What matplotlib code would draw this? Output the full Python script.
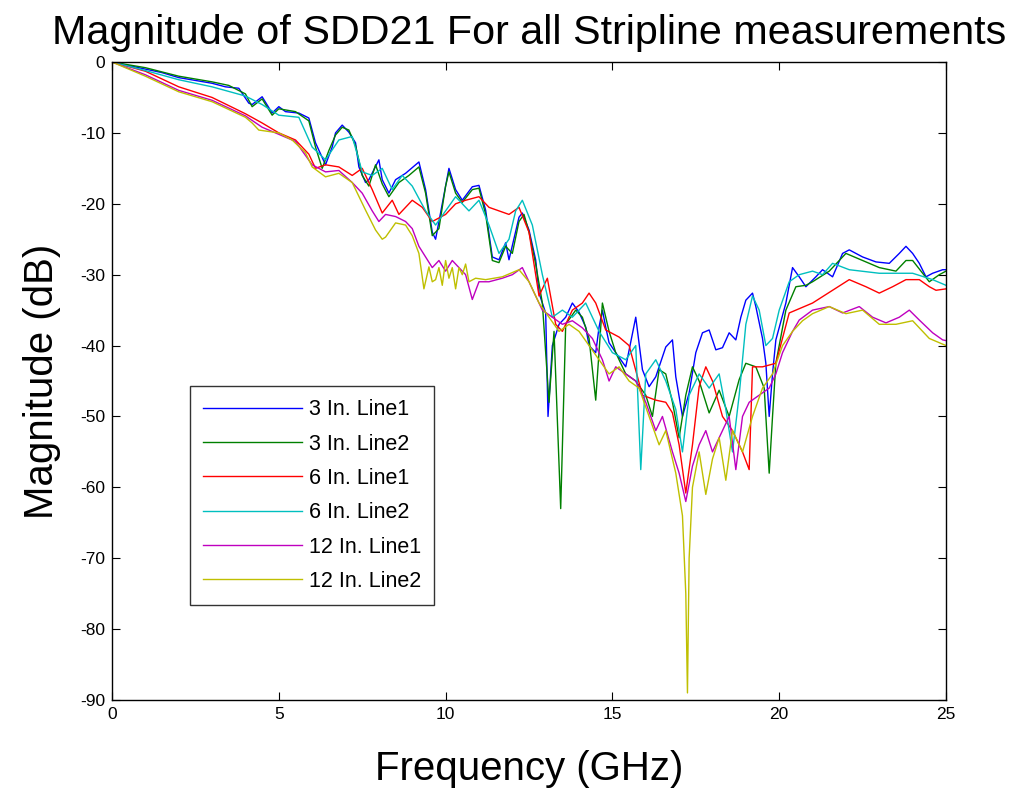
import matplotlib
matplotlib.use("Agg")
import matplotlib.pyplot as plt

plt.rcParams['font.family'] = ['Liberation Sans', 'DejaVu Sans']
plt.rcParams['axes.unicode_minus'] = False

labels = ["3 In. Line1", "3 In. Line2", "6 In. Line1", "6 In. Line2", "12 In. Line1", "12 In. Line2"]
colors = [(0, 0, 1), (0, 0.5, 0), (1, 0, 0), (0, 0.75, 0.75), (0.75, 0, 0.75), (0.75, 0.75, 0)]

f_3in_l1 = [0, 0.5, 1, 1.5, 2, 2.5, 3, 3.4, 3.8, 4.1, 4.2, 4.5, 4.8, 5.0, 5.2, 5.6, 5.9, 6.1, 6.4, 6.6, 6.7, 6.9, 7.1, 7.3, 7.4, 7.6, 7.7, 8.0, 8.1, 8.3, 8.5, 8.8, 9.2, 9.4, 9.6, 9.7, 9.9, 10.1, 10.3, 10.5, 10.8, 11.0, 11.2, 11.4, 11.6, 11.8, 11.9, 12.2, 12.3, 12.5, 12.7, 12.8, 13.0, 13.07, 13.2, 13.4, 13.6, 13.8, 14.0, 14.2, 14.3, 14.5, 14.6, 14.7, 14.8, 14.9, 15.1, 15.4, 15.7, 15.9, 16.1, 16.3, 16.6, 16.8, 16.9, 17.1, 17.3, 17.5, 17.7, 17.9, 18.1, 18.3, 18.5, 18.7, 18.85, 19.0, 19.2, 19.3, 19.5, 19.6, 19.7, 19.8, 19.9, 20.2, 20.4, 20.6, 20.8, 21.1, 21.3, 21.6, 21.9, 22.1, 22.5, 22.9, 23.3, 23.6, 23.8, 24.0, 24.2, 24.4, 24.6, 24.9, 25.0]
db_3in_l1 = [0, -0.5, -1.0, -1.5, -2.2, -2.6, -3.0, -3.5, -3.7, -5.8, -6.0, -4.9, -7.2, -6.3, -7.0, -7.2, -7.9, -11.4, -14.5, -12.0, -10.0, -8.9, -9.9, -11.4, -14.8, -17.0, -16.6, -13.8, -16.6, -18.5, -16.6, -15.7, -14.1, -18.0, -24.0, -25.0, -20.0, -15.0, -18.0, -19.5, -17.6, -17.4, -20.9, -27.5, -27.9, -25.5, -27.9, -21.9, -21.3, -23.7, -27.9, -32.6, -35.4, -50.0, -40.0, -37.0, -36.0, -34.0, -35.3, -37.4, -40.0, -41.0, -37.4, -35.0, -37.4, -39.6, -41.0, -43.0, -36.0, -43.4, -45.8, -44.4, -40.2, -39.2, -44.4, -50.0, -46.7, -41.0, -38.2, -37.8, -40.6, -40.3, -38.2, -39.2, -36.0, -33.6, -32.6, -34.5, -39.0, -42.5, -50.0, -44.0, -39.2, -34.0, -29.0, -30.3, -31.7, -30.3, -29.3, -30.3, -27.0, -26.5, -27.5, -28.2, -28.4, -27.0, -26.0, -27.0, -28.4, -30.3, -29.8, -29.3, -29.3]

f_3in_l2 = [0, 1, 2, 3, 3.5, 4, 4.2, 4.5, 4.8, 5, 5.5, 5.9, 6.1, 6.3, 6.5, 6.7, 6.9, 7.1, 7.3, 7.5, 7.7, 7.9, 8.1, 8.3, 8.6, 8.9, 9.2, 9.4, 9.6, 9.8, 10.0, 10.1, 10.3, 10.5, 10.8, 11.0, 11.2, 11.4, 11.6, 11.8, 12.0, 12.2, 12.35, 12.5, 12.7, 12.9, 13.1, 13.25, 13.45, 13.6, 13.9, 14.1, 14.3, 14.5, 14.7, 14.9, 15.1, 15.4, 15.7, 16.0, 16.2, 16.4, 16.6, 16.8, 17.0, 17.2, 17.4, 17.6, 17.9, 18.2, 18.5, 18.8, 19.0, 19.3, 19.55, 19.7, 19.8, 19.9, 20.2, 20.5, 20.8, 21.0, 21.5, 22.0, 22.5, 23.0, 23.5, 23.8, 24.0, 24.5, 24.8, 25.0]
db_3in_l2 = [0, -0.8, -2.0, -2.8, -3.3, -4.5, -6.3, -5.2, -7.5, -6.6, -7.0, -8.3, -12.0, -15.0, -12.5, -10.3, -9.2, -9.6, -11.8, -16.0, -17.5, -14.5, -17.2, -19.0, -17.0, -16.0, -14.8, -18.5, -24.5, -23.5, -17.5, -15.5, -18.5, -19.8, -18.0, -17.8, -21.5, -28.0, -28.3, -26.0, -27.0, -22.5, -21.5, -24.0, -28.5, -34.0, -48.0, -38.0, -63.0, -37.0, -35.0, -36.0, -39.0, -47.7, -34.0, -38.0, -41.0, -44.0, -45.0, -47.0, -50.0, -43.4, -44.0, -48.0, -53.0, -47.0, -43.0, -45.0, -49.5, -46.3, -50.0, -44.8, -42.5, -43.0, -46.0, -58.0, -50.0, -42.5, -35.0, -31.7, -31.5, -31.0, -29.5, -27.0, -28.0, -29.0, -29.5, -28.0, -28.0, -31.0, -30.0, -29.5]

f_6in_l1 = [0, 1, 2, 3, 4, 4.5, 5, 5.5, 5.9, 6.1, 6.4, 6.8, 7.2, 7.5, 7.8, 8.1, 8.4, 8.6, 9.0, 9.3, 9.6, 10.0, 10.3, 10.6, 11.0, 11.3, 11.6, 11.9, 12.2, 12.5, 12.8, 13.05, 13.3, 13.5, 13.8, 14.1, 14.3, 14.5, 14.8, 15.2, 15.5, 15.9, 16.3, 16.6, 16.8, 17.0, 17.2, 17.4, 17.6, 17.8, 18.0, 18.3, 18.6, 18.9, 19.1, 19.2, 19.5, 19.9, 20.3, 20.5, 21.0, 21.3, 21.6, 22.1, 22.6, 23.0, 23.4, 23.8, 24.2, 24.5, 24.7, 25.0]
db_6in_l1 = [0, -1.3, -3.5, -5.0, -7.3, -8.6, -10.0, -11.0, -13.0, -15.0, -14.5, -14.8, -16.0, -15.0, -18.0, -21.3, -19.5, -21.5, -19.5, -20.5, -22.5, -21.5, -20.0, -19.5, -19.0, -20.5, -21.0, -21.5, -20.5, -24.0, -33.0, -30.5, -37.0, -38.0, -35.0, -34.0, -32.6, -34.0, -37.8, -38.8, -40.0, -47.0, -47.7, -48.0, -49.5, -54.0, -60.8, -54.0, -45.8, -43.0, -45.0, -50.0, -52.0, -55.0, -57.5, -43.0, -43.0, -42.5, -35.4, -35.0, -34.0, -33.1, -32.2, -30.7, -31.7, -32.6, -31.7, -30.7, -30.7, -31.7, -32.2, -32.0]

f_6in_l2 = [0, 1, 2, 3, 4, 4.5, 5, 5.6, 6.0, 6.4, 6.8, 7.2, 7.5, 7.8, 8.1, 8.4, 8.7, 9.0, 9.4, 9.7, 10.0, 10.3, 10.7, 11.0, 11.3, 11.6, 11.9, 12.1, 12.3, 12.6, 12.9, 13.2, 13.5, 13.8, 14.2, 14.6, 15.0, 15.4, 15.7, 15.85, 16.0, 16.3, 16.6, 16.9, 17.1, 17.3, 17.6, 17.9, 18.2, 18.4, 18.6, 18.8, 19.0, 19.2, 19.4, 19.6, 19.8, 20.0, 20.3, 20.6, 21.0, 21.3, 21.6, 22.1, 23.0, 24.0, 24.6, 25.0]
db_6in_l2 = [0, -1.2, -2.5, -3.5, -4.8, -6.0, -7.5, -7.8, -12.0, -13.8, -11.0, -10.5, -15.5, -16.0, -15.0, -18.0, -16.0, -17.5, -21.0, -23.0, -21.0, -19.0, -21.0, -19.5, -23.0, -27.0, -25.0, -21.0, -19.5, -23.0, -30.0, -36.0, -35.0, -36.0, -34.0, -38.0, -41.0, -42.0, -40.0, -57.5, -44.0, -42.0, -45.0, -49.0, -55.0, -47.0, -44.0, -46.0, -44.0, -49.0, -55.0, -47.0, -37.0, -33.0, -35.0, -40.0, -39.0, -35.0, -31.0, -30.0, -29.5, -30.0, -28.4, -29.3, -29.8, -29.8, -30.7, -31.5]

f_12in_l1 = [0, 1, 2, 3, 4, 4.5, 5, 5.5, 6, 6.4, 6.8, 7.2, 7.5, 7.8, 8.0, 8.2, 8.5, 8.8, 9.0, 9.2, 9.4, 9.6, 9.8, 10.0, 10.2, 10.4, 10.6, 10.8, 11.0, 11.3, 11.7, 12.0, 12.3, 12.6, 12.9, 13.2, 13.5, 13.8, 14.1, 14.4, 14.7, 14.9, 15.1, 15.4, 15.7, 16.0, 16.3, 16.5, 16.8, 17.0, 17.2, 17.4, 17.6, 17.8, 18.0, 18.2, 18.5, 18.7, 18.9, 19.1, 19.4, 19.7, 19.9, 20.1, 20.4, 20.6, 21.0, 21.5, 21.9, 22.4, 22.8, 23.2, 23.6, 23.9, 24.2, 24.6, 24.9, 25.0]
db_12in_l1 = [0, -1.8, -4.0, -5.4, -7.6, -9.2, -10.2, -11.2, -14.5, -15.5, -15.3, -17.0, -18.5, -21.0, -22.5, -21.5, -21.8, -22.5, -23.5, -26.0, -27.5, -29.0, -28.0, -29.5, -28.0, -29.0, -30.0, -33.5, -31.0, -31.0, -30.5, -30.0, -29.0, -32.0, -35.0, -36.0, -37.0, -36.5, -37.5, -39.0, -42.0, -45.0, -43.0, -44.0, -45.0, -48.0, -52.0, -50.0, -55.0, -58.0, -62.0, -57.0, -54.0, -52.0, -55.0, -53.0, -50.0, -57.5, -50.0, -48.0, -47.0, -46.0, -44.0, -41.0, -38.0, -36.4, -35.0, -34.5, -35.4, -34.5, -36.0, -36.8, -36.0, -35.0, -36.4, -38.2, -39.2, -39.3]

f_12in_l2 = [0, 0.5, 1, 2, 3, 4, 4.2, 4.4, 5, 5.4, 5.8, 6.0, 6.4, 6.8, 7.2, 7.6, 7.9, 8.1, 8.2, 8.5, 8.8, 9.0, 9.2, 9.35, 9.5, 9.6, 9.7, 9.8, 9.9, 10.0, 10.1, 10.2, 10.3, 10.4, 10.5, 10.6, 10.7, 10.9, 11.2, 11.7, 12.2, 12.5, 12.8, 13.1, 13.4, 13.7, 14.0, 14.3, 14.6, 14.9, 15.2, 15.5, 15.8, 16.1, 16.4, 16.6, 16.9, 17.1, 17.2, 17.25, 17.3, 17.4, 17.6, 17.8, 18.0, 18.2, 18.4, 18.6, 18.9, 19.2, 19.5, 19.8, 20.1, 20.4, 20.7, 21.0, 21.5, 22.0, 22.5, 23.0, 23.5, 24.0, 24.5, 25.0]
db_12in_l2 = [0, -1.0, -2.0, -4.2, -5.6, -7.8, -8.6, -9.6, -10.0, -11.0, -12.8, -14.8, -16.2, -15.7, -17.0, -20.9, -23.7, -25.0, -24.7, -22.7, -23.0, -24.5, -27.0, -32.0, -28.9, -31.0, -30.7, -29.0, -31.5, -28.0, -30.5, -29.0, -32.0, -29.0, -30.0, -28.5, -31.0, -30.5, -30.7, -30.3, -29.3, -31.0, -34.0, -36.0, -38.0, -37.0, -38.0, -40.0, -42.0, -44.0, -43.0, -45.0, -46.0, -50.0, -54.0, -52.0, -58.0, -64.0, -75.0, -89.0, -70.0, -60.0, -55.0, -61.0, -56.0, -53.0, -59.0, -52.0, -55.0, -50.0, -46.0, -44.0, -40.0, -38.0, -36.5, -35.5, -34.5, -35.5, -35.0, -37.0, -37.0, -36.5, -39.0, -40.0]

freqs = [f_3in_l1, f_3in_l2, f_6in_l1, f_6in_l2, f_12in_l1, f_12in_l2]
mags = [db_3in_l1, db_3in_l2, db_6in_l1, db_6in_l2, db_12in_l1, db_12in_l2]

x_ticks = [0, 5, 10, 15, 20, 25]
y_ticks = [0, -10, -20, -30, -40, -50, -60, -70, -80, -90]

fig = plt.figure(figsize=(10.11, 7.89), dpi=100)
ax = fig.add_axes([0.1108, 0.1128, 0.8249, 0.8086])
for f, m, lab, c in zip(freqs, mags, labels, colors):
    ax.plot(f, m, color=c, linewidth=1.0, label=lab)

ax.set_xlim(0, 25)
ax.set_ylim(-90, 0)
ax.set_xticks(x_ticks)
ax.set_yticks(y_ticks)
ax.tick_params(direction='in', top=True, right=True, labelsize=12.5, length=6, pad=5)
for s in ax.spines.values():
    s.set_linewidth(1.0)
ax.set_title("Magnitude of SDD21 For all Stripline measurements", fontsize=29.7, pad=13)
ax.set_xlabel("Frequency (GHz)", fontsize=29, labelpad=20)
ax.set_ylabel("Magnitude (dB)", fontsize=29, labelpad=14)
leg = ax.legend(loc='lower left', bbox_to_anchor=(0.094, 0.149), fontsize=15.5, frameon=True,
                fancybox=False, edgecolor='black', handlelength=4.6, labelspacing=0.62,
                borderpad=0.6, handletextpad=0.3, borderaxespad=0)
leg.get_frame().set_linewidth(1.0)

fig.savefig("out.png", dpi=100)
